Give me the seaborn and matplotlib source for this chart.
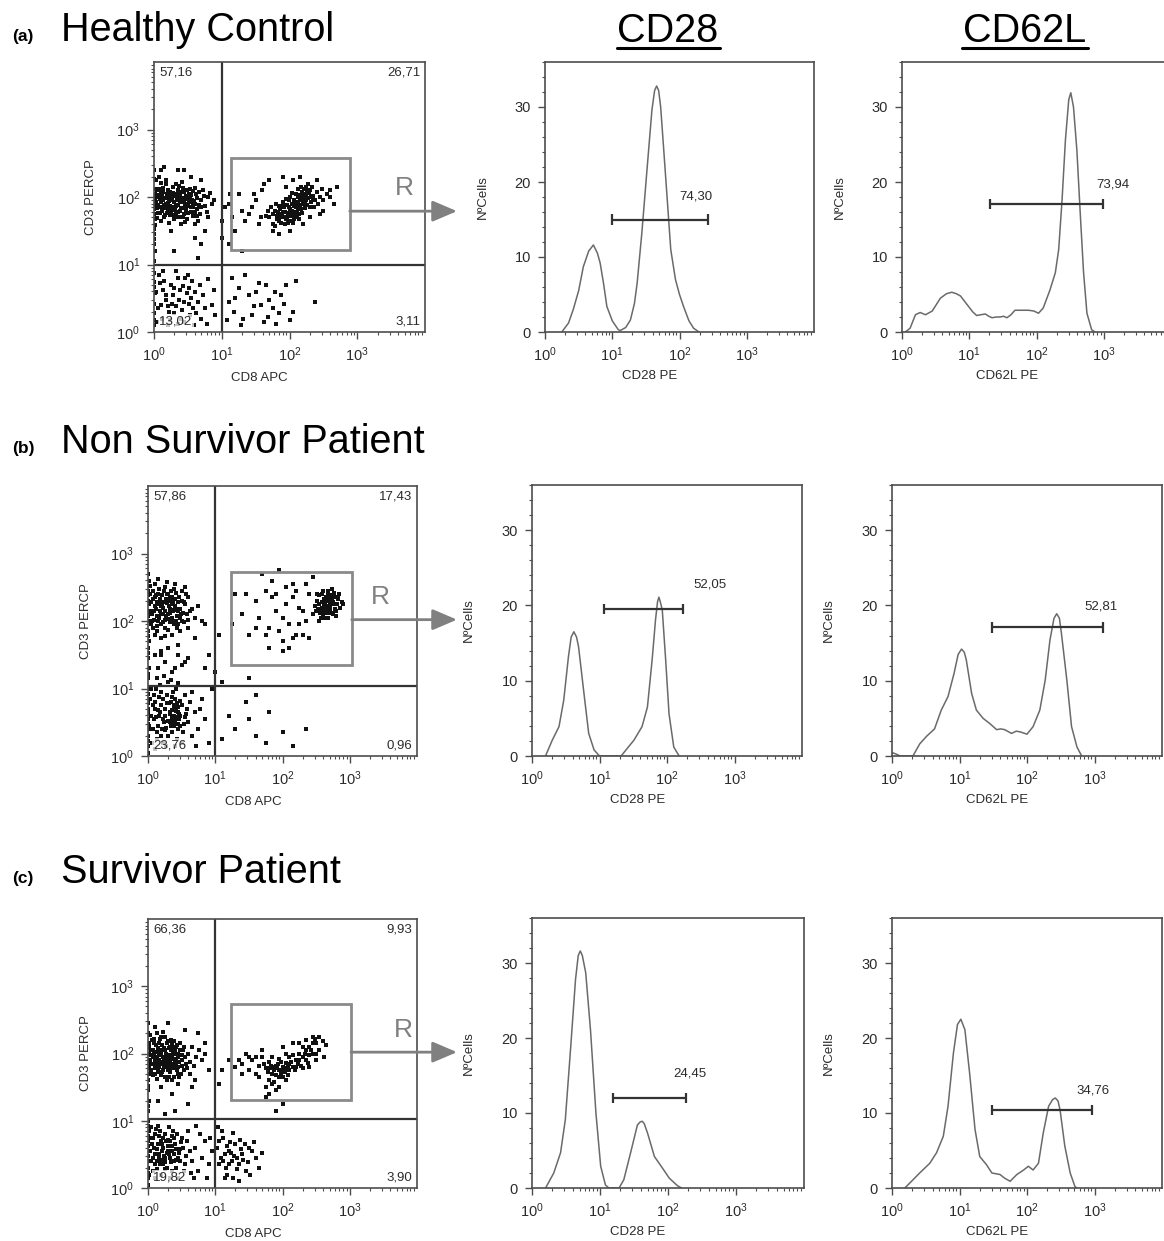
import numpy as np
import pandas as pd
import matplotlib.pyplot as plt
import seaborn as sns
from matplotlib.lines import Line2D
from matplotlib.patches import Rectangle

### Dot plots: (CD8 APC, CD3 PERCP) positions in hundredths of a decade
hc_dots = [
    # CD3+ CD8-
    (2,196),(5,183),(12,201),(18,190),(25,178),(31,205),(8,212),(15,170),(22,194),(36,188),
    (41,199),(47,181),(3,225),(10,165),(28,215),(33,176),(45,208),(52,192),(58,185),(64,198),
    (6,188),(14,207),(20,182),(27,199),(38,171),(43,214),(50,176),(55,203),(61,189),(70,195),
    (1,204),(9,176),(17,219),(24,187),(30,193),(35,210),(40,184),(48,197),(57,172),(66,208),
    (4,169),(11,193),(19,205),(26,174),(32,186),(39,202),(46,190),(53,212),(60,178),(75,186),
    (7,230),(13,185),(21,210),(29,167),(34,199),(42,192),(49,168),(56,196),(63,182),(80,200),
    (2,158),(16,198),(23,173),(37,217),(44,183),(51,205),(59,194),(68,175),(72,210),(85,190),
    (5,210),(12,179),(18,225),(26,195),(31,182),(38,193),(45,175),(54,185),(62,205),(78,178),
    (9,197),(15,188),(22,162),(28,206),(35,178),(41,222),(47,201),(58,209),(67,188),(88,195),
    (3,192),(8,203),(13,214),(19,177),(24,208),(29,185),(36,196),(43,170),(50,187),(65,165),
    (6,176),(11,221),(17,183),(23,201),(27,181),(33,220),(40,207),(46,163),(53,198),(74,202),
    (4,200),(10,208),(16,174),(21,191),(30,201),(39,180),(44,196),(55,178),(61,214),(69,185),
    (7,185),(14,195),(20,198),(25,183),(32,170),(37,204),(48,210),(57,190),(64,172),(82,206),
    (15,245),(40,160),(60,160),(25,150),(35,240),(70,225),(10,240),(55,230),(80,170),(45,240),
    # pile-up on the left edge
    (0,10),(0,28),(0,42),(1,58),(0,74),(0,88),(0,105),(1,120),(0,138),(0,152),(1,168),(0,182),
    (0,198),(1,212),(0,226),(0,240),(0,18),(0,66),(0,130),(0,145),(0,190),(0,175),(0,212),(1,185),
    # CD3+ CD8+
    (182,172),(190,178),(195,168),(200,182),(205,175),(210,190),(215,195),(220,200),(225,205),(230,210),
    (185,165),(192,185),(198,176),(203,190),(208,170),(213,183),(218,208),(223,193),(228,198),(235,202),
    (178,180),(188,170),(196,188),(201,165),(206,196),(211,178),(216,188),(221,212),(226,188),(233,215),
    (175,175),(184,186),(193,160),(199,195),(204,180),(209,205),(214,175),(219,198),(224,215),(238,195),
    (180,190),(187,162),(194,178),(202,172),(207,186),(212,200),(217,182),(222,205),(227,220),(240,208),
    (170,170),(183,178),(191,192),(197,170),(205,162),(210,185),(216,203),(225,196),(231,192),(245,200),
    (176,160),(186,182),(195,197),(203,178),(209,193),(214,168),(220,190),(229,206),(236,185),(248,212),
    (168,180),(181,168),(189,175),(199,185),(207,178),(212,212),(218,195),(223,183),(232,200),(242,190),
    (172,185),(185,175),(193,170),(200,200),(206,168),(213,192),(219,176),(226,210),(234,195),(250,195),
    (165,172),(179,157),(190,188),(198,162),(204,206),(211,172),(217,215),(224,200),(230,185),(255,205),
    (140,175),(150,195),(155,160),(160,210),(145,185),(158,170),(162,220),(135,165),(148,205),(170,225),
    (190,230),(205,225),(215,230),(240,225),(250,180),(260,200),(265,190),(270,215),(175,150),(200,150),
    (220,160),(185,145),(230,170),(245,175),(120,150),(110,190),(125,205),(130,180),(260,210),(195,215),
    # CD3- CD8-
    (3,60),(10,40),(15,75),(22,30),(28,55),(35,80),(40,20),(45,45),(52,65),(58,35),
    (8,85),(12,20),(18,55),(25,70),(32,38),(38,62),(44,15),(50,85),(55,50),(62,28),
    (6,35),(14,62),(20,10),(27,42),(33,90),(42,33),(48,58),(56,75),(65,45),(70,20),
    (9,72),(17,48),(24,18),(30,65),(37,48),(46,80),(53,25),(60,60),(68,70),(75,35),
    (5,15),(13,90),(21,38),(29,28),(36,12),(43,68),(51,42),(59,10),(72,55),(85,40),
    (80,78),(90,25),(88,62),(78,12),
    # CD3- CD8+
    (110,45),(118,30),(125,65),(132,20),(140,55),(148,38),(155,72),(162,15),(170,48),(178,60),
    (185,28),(192,42),(200,18),(210,75),(115,80),(128,10),(145,25),(158,40),(165,70),(175,35),
    (188,55),(195,70),(205,30),(135,85),(168,22),(120,50),(150,60),(180,12),(238,45),(108,18),
    # between populations
    (65,110),(70,130),(30,120),(110,130),(130,120),(100,140),(75,150),(105,185),(112,205),
    (115,170),(100,165),(60,140),
]

ns_dots = [
    # CD3+ CD8-
    (2,225),(6,210),(10,235),(15,200),(20,228),(25,215),(30,240),(35,205),(40,222),(45,195),
    (4,195),(8,245),(12,218),(18,232),(23,198),(28,226),(33,212),(38,248),(43,208),(50,230),
    (3,240),(9,202),(14,228),(19,210),(24,245),(29,203),(34,230),(39,216),(46,236),(52,212),
    (5,215),(11,255),(16,205),(21,238),(26,190),(31,222),(36,236),(41,200),(48,218),(55,225),
    (7,232),(13,192),(17,248),(22,220),(27,232),(32,198),(37,215),(42,242),(47,205),(58,210),
    (1,210),(10,222),(15,240),(20,195),(25,250),(30,210),(35,225),(44,228),(53,198),(60,235),
    (6,200),(12,238),(18,215),(24,228),(29,186),(34,245),(40,232),(49,210),(56,240),(65,218),
    (3,252),(9,215),(14,185),(21,225),(27,208),(33,235),(38,195),(45,215),(54,228),(70,205),
    (8,190),(16,225),(22,210),(28,240),(31,230),(36,200),(42,218),(51,245),(59,202),(75,222),
    (5,228),(13,208),(19,222),(26,202),(32,218),(37,228),(43,190),(50,200),(62,215),(80,200),
    (11,180),(20,175),(35,180),(48,185),(25,178),(60,190),(15,262),(28,258),(40,255),(55,250),
    (45,165),(30,160),(70,175),(85,195),(90,150),(20,150),(55,140),
    # pile-up on the left edge
    (0,5),(0,15),(0,30),(1,40),(0,55),(0,70),(1,85),(0,100),(0,115),(1,130),(0,145),(0,160),
    (1,170),(0,185),(0,200),(1,215),(0,230),(0,245),(1,260),(0,270),(0,22),(0,48),(0,92),
    (0,122),(0,152),(0,178),(0,208),(0,238),(0,78),(0,63),
    # CD3+ CD8+
    (250,215),(255,225),(260,210),(265,235),(270,220),(275,228),(280,215),(258,240),(262,218),(268,205),
    (272,238),(278,225),(283,232),(252,230),(257,205),(263,228),(267,245),(273,212),(277,235),(285,220),
    (248,222),(254,238),(259,218),(264,212),(269,230),(274,248),(279,208),(288,228),(256,212),(261,232),
    (266,222),(271,215),(276,242),(281,225),(251,240),(246,210),(258,228),(263,205),(268,238),(273,225),
    (278,218),(284,240),(253,218),(260,245),(265,215),(270,232),(275,210),(282,235),(255,200),(290,225),
    (262,225),(267,212),(272,228),(266,230),(264,220),(270,224),(258,220),(274,232),(268,218),(261,215),
    (140,210),(160,230),(175,245),(185,260),(195,275),(205,250),(215,235),(225,220),(235,200),(240,240),
    (150,180),(165,205),(180,190),(190,215),(200,170),(210,195),(220,180),(230,215),(210,160),(195,185),
    (185,235),(170,270),(130,240),(205,225),(225,195),(215,255),(235,255),(240,175),(180,160),(220,245),
    (125,195),(145,240),(200,205),(190,240),(230,180),(200,155),(215,175),(245,265),(160,190),(175,180),
    # sparse CD8+ events
    (85,130),(100,125),(105,180),(95,100),(150,115),(120,60),(130,40),(150,55),(160,30),(110,25),
    (180,65),(200,35),(215,15),(235,40),(175,20),(145,80),(160,90),(110,110),
    # CD3- CD8-
    (5,60),(10,80),(15,45),(20,95),(25,70),(30,30),(35,55),(40,85),(45,40),(50,75),
    (8,40),(12,100),(18,65),(22,20),(28,90),(33,50),(38,72),(43,25),(48,60),(55,90),
    (3,85),(9,55),(14,25),(19,75),(24,50),(29,110),(34,80),(39,45),(44,65),(52,35),
    (6,20),(11,70),(16,88),(21,40),(26,60),(31,78),(36,35),(41,100),(46,55),(58,70),
    (4,100),(13,35),(17,60),(23,85),(27,15),(32,65),(37,95),(42,58),(47,82),(60,50),
    (7,75),(10,10),(18,105),(25,38),(30,52),(35,68),(40,15),(45,72),(53,48),(65,30),
    (2,45),(12,58),(20,30),(28,78),(33,62),(38,50),(43,78),(50,20),(57,62),(70,65),
    (9,90),(15,68),(22,55),(27,42),(36,88),(41,68),(48,45),(55,58),(62,80),(75,40),
    (14,115),(24,118),(34,112),(44,108),(66,95),(80,85),(85,55),(90,20),(72,15),(78,70),
    (38,60),(40,52),(42,66),(36,58),(44,48),(39,75),(46,62),(34,45),
    (15,130),(25,140),(35,125),(20,155),(50,135),(60,145),(10,150),(45,150),(40,130),
]

sv_dots = [
    # CD3+ CD8-
    (3,190),(7,205),(12,178),(17,215),(22,188),(27,200),(32,172),(37,210),(42,185),(47,198),
    (5,175),(9,222),(14,195),(19,168),(24,208),(29,182),(34,220),(39,192),(44,170),(52,205),
    (2,210),(8,185),(13,230),(18,198),(23,175),(28,215),(33,190),(38,165),(43,212),(50,182),
    (4,198),(10,170),(15,208),(20,185),(25,225),(30,195),(35,178),(40,205),(46,188),(55,195),
    (6,220),(11,192),(16,180),(21,212),(26,165),(31,208),(36,196),(41,178),(48,215),(58,178),
    (1,180),(9,200),(14,162),(19,225),(24,192),(29,175),(34,205),(39,218),(45,180),(60,200),
    (7,168),(12,212),(17,190),(22,232),(27,180),(32,198),(37,185),(42,200),(49,170),(62,188),
    (3,228),(10,188),(15,175),(20,200),(25,185),(30,218),(35,160),(40,190),(47,205),(65,210),
    (6,185),(13,202),(18,222),(23,195),(28,160),(33,182),(38,200),(44,195),(51,190),(68,182),
    (8,195),(11,178),(16,198),(21,172),(26,205),(31,188),(36,215),(43,175),(54,210),(72,195),
    (4,170),(14,185),(19,205),(24,180),(29,198),(34,192),(41,210),(46,165),(57,185),(76,205),
    (2,200),(9,215),(17,172),(22,205),(27,190),(33,210),(39,180),(45,200),(53,175),(80,190),
    (5,205),(12,195),(18,185),(26,195),(31,165),(37,200),(42,192),(50,198),(63,170),(85,200),
    (10,240),(30,245),(55,235),(75,230),(20,150),(45,155),(65,150),(90,175),(85,215),(70,160),
    (35,140),(15,130),(60,125),(25,110),(40,115),
    # pile-up on the left edge
    (0,5),(0,15),(0,30),(1,40),(0,55),(0,70),(1,85),(0,100),(0,115),(1,130),(0,145),(0,160),
    (1,170),(0,185),(0,200),(1,215),(0,230),(0,245),(0,22),(0,48),(0,92),(0,122),(0,152),
    (0,178),(0,208),(0,78),(0,63),
    # CD3+ CD8+
    (130,180),(140,185),(150,175),(155,190),(160,170),(165,182),(170,195),(175,178),(180,188),(185,170),
    (190,182),(195,192),(200,176),(205,186),(210,195),(215,180),(220,190),(225,200),(230,195),(235,205),
    (240,210),(245,200),(250,215),(255,205),(260,218),(180,160),(185,195),(190,168),(195,175),(200,165),
    (205,200),(210,175),(215,198),(220,180),(225,190),(230,210),(235,190),(240,198),(245,215),(250,200),
    (172,185),(178,172),(183,182),(188,158),(193,185),(198,188),(203,172),(208,182),(213,188),(218,175),
    (223,185),(228,182),(233,200),(238,186),(243,205),(248,222),(165,165),(175,150),(185,155),(195,150),
    (205,160),(190,145),(180,140),(200,210),(170,205),(160,195),(150,195),(140,170),(135,190),(145,200),
    (215,215),(225,215),(235,220),(245,225),(255,225),(262,195),(265,212),(250,190),(240,180),(230,178),
    (195,165),(200,180),(192,178),(188,175),(205,178),(210,185),(185,180),(198,170),(208,168),(182,178),
    (120,190),(110,175),(105,155),(200,125),(190,115),(175,135),
    # CD3- CD8-
    (3,55),(8,75),(13,40),(18,85),(23,60),(28,30),(33,70),(38,50),(43,80),(48,40),
    (5,90),(10,35),(15,65),(20,20),(25,80),(30,55),(35,25),(40,65),(45,15),(52,60),
    (2,20),(7,45),(12,88),(17,50),(22,35),(27,70),(32,45),(37,85),(42,30),(50,75),
    (6,65),(11,15),(16,78),(21,55),(26,45),(31,90),(36,62),(41,42),(47,58),(55,35),
    (4,40),(9,60),(14,28),(19,70),(24,48),(29,62),(34,38),(39,75),(46,52),(58,70),
    (1,75),(10,50),(15,92),(20,42),(25,28),(30,72),(35,55),(44,45),(53,25),(62,55),
    (8,25),(13,58),(18,35),(23,75),(28,52),(33,15),(38,40),(49,68),(57,48),(66,40),
    (11,80),(16,45),(21,65),(26,38),(31,50),(36,78),(41,58),(60,85),(70,60),(75,25),
    (80,45),(85,70),(90,35),(95,55),(68,15),(78,80),(88,15),(92,75),(64,22),(72,92),
    # CD3- CD8+
    (103,60),(108,45),(112,75),(116,30),(120,55),(125,40),(130,65),(135,35),(140,50),(145,25),
    (105,35),(110,85),(115,50),(118,20),(122,68),(128,48),(132,28),(138,58),(142,42),(150,60),
    (106,70),(112,40),(117,62),(124,52),(127,15),(133,45),(137,72),(148,38),(155,55),(160,45),
    (104,90),(114,15),(126,82),(144,65),(152,20),(165,30),(170,52),(158,68),(121,35),(135,10),
]

### Quadrant percentages (top-left, top-right, bottom-left, bottom-right)
hc_pct = ['57,16', '26,71', '13,02', '3,11']
ns_pct = ['57,86', '17,43', '23,76', '0,96']
sv_pct = ['66,36', '9,93', '19,82', '3,90']

### Histograms: x in decades (log10 of fluorescence), y in number of cells
cd28_hc_x = [0.25,0.35,0.42,0.50,0.57,0.65,0.72,0.78,0.82,0.87,0.92,1.00,1.09,1.12,1.20,1.27,1.33,
             1.37,1.44,1.52,1.59,1.63,1.66,1.69,1.72,1.79,1.87,1.94,2.00,2.06,2.14,2.21,2.29]
cd28_hc_y = [0,1.2,3,5.5,8.7,10.8,11.6,10.5,9.2,6.5,3.4,1.5,0.3,0.2,0.6,1.6,3.8,
             6.5,13.2,22,29.6,32.2,32.8,32.2,30,21.2,11,7,5,3.4,1.5,0.5,0]
cd62l_hc_x = [0.05,0.12,0.20,0.27,0.35,0.45,0.57,0.66,0.74,0.81,0.87,0.93,0.99,1.05,1.11,1.17,1.24,
              1.29,1.34,1.40,1.46,1.51,1.56,1.62,1.68,1.78,1.88,1.96,2.03,2.10,2.15,2.20,2.28,2.33,
              2.38,2.43,2.48,2.51,2.55,2.60,2.65,2.70,2.75,2.82,2.87]
cd62l_hc_y = [0,0.5,2.3,2.6,2.3,2.8,4.5,5.1,5.3,5.1,4.8,4.1,3.4,2.7,2.2,2.3,2.4,
              2.1,1.9,2.0,2.0,2.1,1.9,2.3,2.9,2.9,2.9,2.8,2.5,3.2,4.4,5.6,7.9,11,
              17.6,25.6,31,31.9,30,24.3,15.9,7.9,2.5,0.3,0]

cd28_ns_x = [0.20,0.30,0.40,0.47,0.54,0.58,0.62,0.66,0.69,0.77,0.84,0.92,1.00,1.32,1.41,1.51,1.63,
             1.71,1.78,1.83,1.86,1.88,1.90,1.93,1.98,2.03,2.10,2.18]
cd28_ns_y = [0,2.1,3.9,7.4,13.2,15.8,16.5,15.8,14.5,8.3,3,0.8,0,0,1,2.1,3.9,
             6.5,12.8,18.1,20.5,21.1,20.5,19.4,12.8,5.6,1.2,0]
cd62l_ns_x = [0.00,0.05,0.12,0.31,0.41,0.51,0.63,0.73,0.83,0.92,0.98,1.03,1.07,1.10,1.18,1.25,1.35,
              1.45,1.55,1.61,1.67,1.77,1.84,1.90,2.00,2.09,2.19,2.27,2.34,2.40,2.44,2.48,2.51,2.59,
              2.66,2.74,2.81]
cd62l_ns_y = [0.45,0.3,0,0,1.6,2.6,3.6,6.1,7.9,11,13.5,14.2,13.8,12.8,8.3,6.1,5,
              4.3,3.5,3.6,3.5,3,3.3,3.2,2.9,3.9,6.1,10.1,15.4,18.3,18.9,18.3,16.3,10.1,
              3.9,1.2,0]

cd28_sv_x = [0.20,0.32,0.42,0.49,0.57,0.64,0.68,0.71,0.74,0.79,0.86,0.94,1.01,1.08,1.13,1.28,1.35,
             1.45,1.55,1.59,1.62,1.65,1.70,1.80,1.90,2.02,2.14,2.20]
cd28_sv_y = [0,2,4.7,9.1,18.9,27.8,31,31.6,31,28.7,21.1,10,2.9,0.4,0,0,1.1,
             4.7,8.4,8.8,8.9,8.6,7.3,4.2,2.9,1.3,0.3,0]
cd62l_sv_x = [0.19,0.29,0.41,0.56,0.66,0.76,0.83,0.91,0.97,1.02,1.08,1.15,1.23,1.30,1.40,1.48,1.60,
              1.67,1.75,1.85,1.95,2.02,2.09,2.17,2.24,2.32,2.38,2.42,2.46,2.49,2.56,2.64,2.71,2.74]
cd62l_sv_y = [0,0.9,2,3.3,4.7,6.9,10.9,18,21.8,22.5,21.1,15.3,7.8,4.2,3.1,2,1.8,
              1.3,0.9,1.8,2.4,2.9,2.4,3.3,7.3,10.9,11.8,12,11.6,10.4,5.6,2,0.2,0]

### Marker gates (from, to in decades; height) and their labels
cd28_gates = [((1.0, 2.43), 15.0, '74,30', (2.24, 18.1)),
              ((1.07, 2.24), 19.5, '52,05', (2.64, 22.8)),
              ((1.19, 2.26), 12.0, '24,45', (2.32, 15.3))]
cd62l_gates = [((1.31, 2.99), 17.1, '73,94', (3.13, 19.7)),
               ((1.48, 3.12), 17.1, '52,81', (3.09, 19.9)),
               ((1.48, 2.96), 10.4, '34,76', (2.98, 13.0))]

row_titles = ['Healthy Control', 'Non Survivor Patient', 'Survivor Patient']
row_tags = ['(a)', '(b)', '(c)']


sns.set_theme(style='ticks')
plt.rcParams['font.family'] = ['Liberation Sans', 'DejaVu Sans']
plt.rcParams['mathtext.fontset'] = 'custom'
plt.rcParams['mathtext.rm'] = 'Liberation Sans'
plt.rcParams['mathtext.default'] = 'regular'
plt.rcParams['text.color'] = 'black'

W, H = 1164, 1241
fig = plt.figure(figsize=(W / 100, H / 100), dpi=100)
GREY = '#4d4d4d'
INK = '#2b2b2b'


def box(l, r, t, b):
    return [l / W, 1 - b / H, (r - l) / W, (b - t) / H]


def log_ticks(axis):
    major = [1, 10, 100, 1000]
    minor = [k * 10 ** d for d in range(4) for k in range(2, 10)]
    axis.set_ticks(major, ['$10^{%d}$' % i for i in range(4)])
    axis.set_ticks(minor, minor=True)


def style(ax):
    for s in ax.spines.values():
        s.set_visible(True)
        s.set_color(GREY)
        s.set_linewidth(1.2)
    ax.tick_params(which='major', direction='out', length=5, width=1, color=GREY,
                   labelsize=10.5, labelcolor=INK, pad=5)
    ax.tick_params(which='minor', direction='out', length=2.5, width=0.8, color=GREY)


def dot_panel(rect, dots, pct, quad_y, gate, arrow_y, r_pos):
    ax = fig.add_axes(rect)
    d = 10 ** (pd.DataFrame(dots, columns=['cd8', 'cd3']) / 100)
    sns.scatterplot(data=d, x='cd8', y='cd3', ax=ax, s=5, marker='s',
                    color='#111111', linewidth=0, legend=False)
    ax.set_xscale('log')
    ax.set_yscale('log')
    ax.set_xlim(1, 1e4)
    ax.set_ylim(1, 1e4)
    log_ticks(ax.xaxis)
    log_ticks(ax.yaxis)
    style(ax)
    ax.axvline(10, color='#333333', lw=1.6)
    ax.axhline(10 ** quad_y, color='#333333', lw=1.6)
    (x0, x1), (y0, y1) = gate
    ax.add_patch(Rectangle((10 ** x0, 10 ** y0), 10 ** x1 - 10 ** x0, 10 ** y1 - 10 ** y0,
                           fill=False, edgecolor='#8a8a8a', lw=2))
    ax.annotate('', xy=(457 / W, 10 ** arrow_y), xycoords=('figure fraction', 'data'),
                xytext=(10 ** x1, 10 ** arrow_y), textcoords='data', annotation_clip=False,
                arrowprops=dict(arrowstyle='-|>,head_length=0.75,head_width=0.32',
                                mutation_scale=20, color='#808080', lw=2,
                                shrinkA=0, shrinkB=0))
    ax.text(10 ** r_pos[0], 10 ** r_pos[1], 'R', fontsize=19, color='#808080',
            ha='center', va='center')
    kw = dict(transform=ax.transAxes, fontsize=9.5, color=INK, zorder=6,
              bbox=dict(boxstyle='square,pad=0.08', facecolor='white', edgecolor='none',
                        alpha=0.75))
    ax.text(0.02, 0.982, pct[0], ha='left', va='top', **kw)
    ax.text(0.982, 0.982, pct[1], ha='right', va='top', **kw)
    ax.text(0.02, 0.018, pct[2], ha='left', va='bottom', **kw)
    ax.text(0.982, 0.018, pct[3], ha='right', va='bottom', **kw)
    ax.set_xlabel('CD8 APC', fontsize=9.5, color=INK)
    ax.set_ylabel('CD3 PERCP', fontsize=9.5, color=INK)
    ax.xaxis.set_label_coords(0.39, -0.148)
    ax.yaxis.set_label_coords(-0.21, 0.5)
    return ax


def hist_panel(rect, xs, ys, gate, xlabel):
    ax = fig.add_axes(rect)
    sns.lineplot(x=10 ** np.array(xs), y=ys, ax=ax, color='#6a6a6a', lw=1.1,
                 estimator=None, sort=False)
    ax.set_xscale('log')
    ax.set_xlim(1, 1e4)
    ax.set_ylim(0, 36)
    log_ticks(ax.xaxis)
    ax.set_yticks([0, 10, 20, 30])
    ax.set_yticks(list(range(0, 37, 2)), minor=True)
    style(ax)
    (g0, g1), gy, lab, lpos = gate
    ax.hlines(gy, 10 ** g0, 10 ** g1, color='#333333', lw=1.6)
    ax.vlines([10 ** g0, 10 ** g1], gy - 0.7, gy + 0.7, color='#333333', lw=1.6)
    ax.text(10 ** lpos[0], lpos[1], lab, fontsize=9.5, color=INK,
            ha='center', va='center')
    ax.set_xlabel(xlabel, fontsize=9.5, color=INK)
    ax.set_ylabel('NºCells', fontsize=9.5, color=INK)
    ax.xaxis.set_label_coords(0.39, -0.14)
    ax.yaxis.set_label_coords(-0.21, 0.5)
    return ax


### Row (a)
dot_panel(box(154, 425, 62, 332), hc_dots, hc_pct, 1.0,
          ((1.13, 2.89), (1.21, 2.58)), 1.79, (3.69, 2.13))
hist_panel(box(545, 814, 62, 332), cd28_hc_x, cd28_hc_y, cd28_gates[0], 'CD28 PE')
hist_panel(box(902, 1171, 62, 332), cd62l_hc_x, cd62l_hc_y, cd62l_gates[0], 'CD62L PE')

### Row (b)
dot_panel(box(148, 417, 486, 756), ns_dots, ns_pct, 1.03,
          ((1.24, 3.03), (1.35, 2.73)), 2.02, (3.45, 2.35))
hist_panel(box(532, 802, 485, 756), cd28_ns_x, cd28_ns_y, cd28_gates[1], 'CD28 PE')
hist_panel(box(892, 1162, 485, 756), cd62l_ns_x, cd62l_ns_y, cd62l_gates[1], 'CD62L PE')

### Row (c)
dot_panel(box(148, 417, 919, 1188), sv_dots, sv_pct, 1.03,
          ((1.24, 3.02), (1.31, 2.73)), 2.02, (3.79, 2.35))
hist_panel(box(532, 804, 918, 1188), cd28_sv_x, cd28_sv_y, cd28_gates[2], 'CD28 PE')
hist_panel(box(892, 1162, 918, 1188), cd62l_sv_x, cd62l_sv_y, cd62l_gates[2], 'CD62L PE')

### Titles
for tag, title, base in zip(row_tags, row_titles, [41, 453, 883]):
    fig.text(12 / W, 1 - base / H, tag, fontsize=12.5, fontweight='bold', va='baseline')
    fig.text(61 / W, 1 - base / H, title, fontsize=28.5, va='baseline')

for name, cx, x0, x1 in [('CD28', 668, 617, 720), ('CD62L', 1025, 962, 1088)]:
    fig.text(cx / W, 1 - 42 / H, name, fontsize=28.5, ha='center', va='baseline')
    fig.add_artist(Line2D([x0 / W, x1 / W], [1 - 48 / H, 1 - 48 / H], color='black', lw=2.2))

fig.savefig('out.png', dpi=100)
